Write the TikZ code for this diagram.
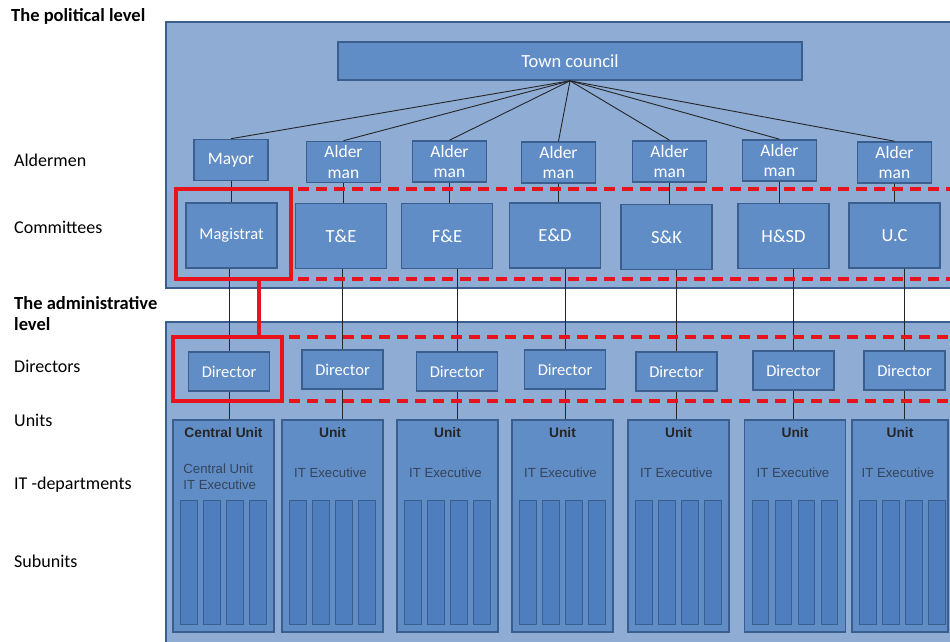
\documentclass[tikz,border=0pt]{standalone}
\usepackage{fontspec}
\setmainfont{Carlito}
\newfontfamily\arialfont{Liberation Sans}
\usetikzlibrary{calc}
\definecolor{panelblue}{HTML}{8EACD4}
\definecolor{boxblue}{HTML}{618DC7}
\definecolor{barblue}{HTML}{4F7EBF}
\definecolor{edgeblue}{HTML}{3A5F8E}
\definecolor{markred}{HTML}{E8141C}
\definecolor{exectext}{HTML}{34445A}
\tikzset{
  panel/.style={draw=edgeblue,fill=panelblue,line width=1.6pt},
  orgbox/.style={draw=edgeblue,fill=boxblue,line width=1.6pt,text=white,inner sep=0pt},
  councilbox/.style={orgbox,minimum width=464pt,minimum height=38pt,font=\fontsize{18.5}{21}\selectfont},
  alderbox/.style={orgbox,minimum width=74pt,minimum height=41pt,align=center,font=\fontsize{17.5}{20.5}\selectfont},
  commbox/.style={orgbox,minimum width=91pt,minimum height=65pt,font=\fontsize{18.5}{21}\selectfont},
  dirbox/.style={orgbox,minimum width=81pt,minimum height=39pt,font=\fontsize{16.5}{19}\selectfont},
  unitbox/.style={orgbox,minimum width=101pt,minimum height=212pt},
  subbar/.style={draw=edgeblue,fill=barblue,line width=1.3pt},
  unithead/.style={font=\arialfont\bfseries\fontsize{13.8}{16}\selectfont,text=black!85,inner sep=0pt},
  unitexec/.style={font=\arialfont\fontsize{13.2}{16}\selectfont,text=exectext,inner sep=0pt},
  levellabel/.style={anchor=base west,inner sep=0pt,font=\fontsize{18}{21}\selectfont},
  levelhead/.style={levellabel,font=\bfseries\fontsize{18.5}{21}\selectfont},
  conn/.style={draw=black!85,line width=0.9pt},
  redframe/.style={draw=markred,line width=3.2pt},
  reddash/.style={draw=markred,line width=3.2pt,dash pattern=on 11pt off 7pt}
}
\begin{document}
\begin{tikzpicture}[x=1pt,y=1pt,yscale=-1]
  \useasboundingbox (0,0) rectangle (950,641);
  \clip (0,0) rectangle (950,641);

  \path[panel] (166,22) rectangle (962,288);
  \path[panel] (166,322) rectangle (962,660);

  \node[levelhead] (polhead) at (11,21) {The political level};
  \node[levellabel] (aldlabel) at (14,166) {Aldermen};
  \node[levellabel] (comlabel) at (14,233) {Committees};
  \node[levelhead,align=left,anchor=base west] (admhead) at (14,330) {The administrative\\level};
  \node[levellabel] (dirlabel) at (14,372) {Directors};
  \node[levellabel] (unilabel) at (14,426) {Units};
  \node[levellabel] (itlabel) at (14,489) {IT -departments};
  \node[levellabel] (sublabel) at (14,567) {Subunits};

  \node[councilbox] (tc) at (570,61) {Town council};

  \node[alderbox] (a1) at (231,160) {Mayor};
  \node[alderbox] (a2) at (343.5,162) {Alder\\man};
  \node[alderbox] (a3) at (449.5,161.5) {Alder\\man};
  \node[alderbox] (a4) at (558.5,162.5) {Alder\\man};
  \node[alderbox] (a5) at (669.5,161.5) {Alder\\man};
  \node[alderbox] (a6) at (779.5,160.5) {Alder\\man};
  \node[alderbox] (a7) at (894.5,162.5) {Alder\\man};

  \node[commbox,font=\fontsize{16.5}{19}\selectfont] (c1) at (231.5,235.5) {Magistrat};
  \node[commbox] (c2) at (341,236) {T\&E};
  \node[commbox] (c3) at (447,236) {F\&E};
  \node[commbox] (c4) at (555,235.5) {E\&D};
  \node[commbox] (c5) at (666.5,237) {S\&K};
  \node[commbox] (c6) at (783.5,236) {H\&SD};
  \node[commbox] (c7) at (894.5,235.5) {U.C};

  \node[dirbox] (d1) at (229,371.5) {Director};
  \node[dirbox] (d2) at (342.5,369.5) {Director};
  \node[dirbox] (d3) at (457,371.5) {Director};
  \node[dirbox] (d4) at (565,369.5) {Director};
  \node[dirbox] (d5) at (676.5,371.5) {Director};
  \node[dirbox] (d6) at (793.5,370.5) {Director};
  \node[dirbox] (d7) at (904.5,370.5) {Director};

  \node[unitbox] (u1) at (223.5,526) {};
  \node[unitbox] (u2) at (332.5,526) {};
  \node[unitbox] (u3) at (447.5,526) {};
  \node[unitbox] (u4) at (562.5,526) {};
  \node[unitbox] (u5) at (678.5,526) {};
  \node[unitbox] (u6) at (795,526) {};
  \node[unitbox,minimum width=96pt] (u7) at (900,526) {};

  \node[unithead] (u1head) at ($(u1.north)+(0,13)$) {Central Unit};
  \node[unitexec,align=left,anchor=west] (u1exec) at ($(u1.north west)+(11,58)$) {Central Unit\\IT Executive};
  \foreach \n in {2,...,7}{
    \node[unithead] (u\n head) at ($(u\n.north)+(0,13)$) {Unit};
    \node[unitexec] (u\n exec) at ($(u\n.north)+(-2,54)$) {IT Executive};
  }
  \foreach \n in {1,...,7}{
    \foreach \i in {0,...,3}
      \path[subbar] ($(u\n.north west)+(8.5+23*\i,81)$) rectangle ++(16.5,124);
  }

  \foreach \n in {1,...,7}{
    \draw[conn] (tc.south) -- (a\n.north);
    \draw[conn] (a\n.south) -- (a\n.south |- c\n.north);
    \draw[conn] (d\n.north |- c\n.south) -- (d\n.north);
    \draw[conn] (d\n.south) -- (d\n.south |- u\n.north);
  }

  \path[redframe] (176,189) rectangle (291,279);
  \path[redframe] (173,337) rectangle (282,401);
  \coordinate (magframe) at (259,279);
  \coordinate (dirframe) at (259,337);
  \draw[redframe] (magframe) -- (dirframe);
  \path[reddash] (298,189) -- (962,189);
  \path[reddash] (298,279) -- (962,279);
  \path[reddash] (289,337) -- (962,337);
  \path[reddash] (289,401) -- (962,401);
\end{tikzpicture}
\end{document}
